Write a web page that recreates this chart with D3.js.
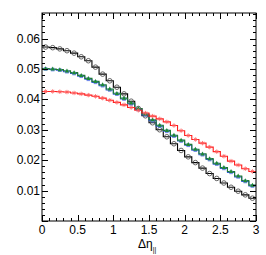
<!DOCTYPE html>
<html><head><meta charset="utf-8">
<script src="https://cdn.jsdelivr.net/npm/d3@7"></script>
<style>body{margin:0;background:#fff;} svg{display:block;}</style>
</head><body>
<script>
const binEdges = d3.range(0, 31).map(i => i * 0.1);
const blackVals = [0.0572,0.0570,0.0566,0.0560,0.0552,0.0540,0.0527,0.0506,0.0483,0.0461,0.0440,0.0418,0.0394,0.0370,0.0346,0.0323,0.0300,0.0277,0.0254,0.0232,0.0211,0.0192,0.0174,0.0156,0.0140,0.0125,0.0111,0.0098,0.0086,0.0075];
const greenVals = [0.0501,0.0500,0.0498,0.0494,0.0488,0.0479,0.0469,0.0459,0.0448,0.0434,0.0420,0.0404,0.0388,0.0370,0.0352,0.0333,0.0315,0.0298,0.0282,0.0266,0.0252,0.0236,0.0221,0.0205,0.0190,0.0176,0.0163,0.0148,0.0133,0.0118];
const blueVals  = [0.0500,0.0498,0.0496,0.0491,0.0485,0.0476,0.0466,0.0456,0.0445,0.0431,0.0417,0.0401,0.0385,0.0367,0.0349,0.0330,0.0312,0.0295,0.0279,0.0263,0.0249,0.0233,0.0218,0.0202,0.0187,0.0173,0.0160,0.0145,0.0130,0.0115];
const redVals   = [0.0426,0.0426,0.0425,0.0424,0.0421,0.0418,0.0414,0.0410,0.0404,0.0397,0.0390,0.0382,0.0373,0.0364,0.0355,0.0345,0.0336,0.0326,0.0314,0.0297,0.0281,0.0268,0.0256,0.0243,0.0228,0.0213,0.0197,0.0184,0.0172,0.0163];
const xTickVals = [0, 0.5, 1, 1.5, 2, 2.5, 3];
const xTickLabels = ["0","0.5","1","1.5","2","2.5","3"];
const yTickVals = [0.01, 0.02, 0.03, 0.04, 0.05, 0.06];
const yTickLabels = ["0.01","0.02","0.03","0.04","0.05","0.06"];

const W = 266, H = 255;
const m = {l: 42, r: 10, t: 13, b: 34};
const svg = d3.select("body").append("svg").attr("width", W).attr("height", H);
const x = d3.scaleLinear().domain([0, 3]).range([m.l, W - m.r]);
const y = d3.scaleLinear().domain([0, 0.0684]).range([H - m.b, m.t]);

const font = "'Liberation Sans', Arial, Helvetica, sans-serif";

function stepPts(vals) {
  const pts = [];
  vals.forEach((v, i) => { pts.push([binEdges[i], v]); pts.push([binEdges[i + 1], v]); });
  return pts;
}
const line = d3.line().x(d => x(d[0])).y(d => y(d[1]));
const centers = binEdges.slice(0, -1).map((e, i) => (e + binEdges[i + 1]) / 2);

const series = [
  {vals: blackVals, color: "#000", mcol: "#555", marker: "circle"},
  {vals: blueVals, color: "#3355dd", mcol: "#5a78e8", marker: "square"},
  {vals: greenVals, color: "#1e7d2e", mcol: "#1e8a30", marker: "triangle"},
  {vals: redVals, color: "#ff1a1a", mcol: "#ff5a5a", marker: "star"}
];

const plot = svg.append("g");
series.forEach(s => {
  plot.append("path").attr("d", line(stepPts(s.vals)))
    .attr("fill", "none").attr("stroke", s.color).attr("stroke-width", 1.1);
});
series.forEach(s => {
  const g = plot.append("g");
  s.vals.forEach((v, i) => {
    const cx = x(centers[i]), cy = y(v);
    if (s.marker === "circle") {
      g.append("circle").attr("cx", cx).attr("cy", cy).attr("r", 2.3)
        .attr("fill", "none").attr("stroke", s.mcol).attr("stroke-width", 0.9);
    } else if (s.marker === "square") {
      g.append("rect").attr("x", cx - 1.8).attr("y", cy - 1.8).attr("width", 3.6).attr("height", 3.6)
        .attr("fill", s.mcol).attr("opacity", 0.85);
    } else if (s.marker === "triangle") {
      g.append("path").attr("d", `M${cx},${cy - 2.4}L${cx + 2.2},${cy + 1.6}L${cx - 2.2},${cy + 1.6}Z`)
        .attr("fill", s.mcol);
    } else {
      const r = 2.2;
      g.append("path").attr("d", `M${cx - r},${cy}H${cx + r}M${cx},${cy - r}V${cy + r}M${cx - r * 0.7},${cy - r * 0.7}L${cx + r * 0.7},${cy + r * 0.7}M${cx - r * 0.7},${cy + r * 0.7}L${cx + r * 0.7},${cy - r * 0.7}`)
        .attr("stroke", s.mcol).attr("stroke-width", 0.8).attr("fill", "none");
    }
  });
});

// frame
const x0 = x(0), x1 = x(3), yB = y(0), yT = y.range()[1];
svg.append("rect").attr("x", x0).attr("y", yT).attr("width", x1 - x0).attr("height", yB - yT)
  .attr("fill", "none").attr("stroke", "#000").attr("stroke-width", 1);

// ticks
const axg = svg.append("g").attr("stroke", "#000").attr("stroke-width", 1);
const xMinor = d3.range(0, 31).map(i => i * 0.1);
xMinor.forEach((v, i) => {
  const len = (i % 5 === 0) ? 6 : 3;
  const px = Math.round(x(v)) + 0.5;
  axg.append("line").attr("x1", px).attr("x2", px).attr("y1", yB).attr("y2", yB - len);
  axg.append("line").attr("x1", px).attr("x2", px).attr("y1", yT).attr("y2", yT + len);
});
const yMinor = d3.range(0, 35).map(i => i * 0.002).filter(v => v <= 0.0684);
yMinor.forEach((v, i) => {
  const len = (i % 5 === 0) ? 6 : 3;
  const py = Math.round(y(v)) + 0.5;
  axg.append("line").attr("y1", py).attr("y2", py).attr("x1", x0).attr("x2", x0 + len);
  axg.append("line").attr("y1", py).attr("y2", py).attr("x1", x1).attr("x2", x1 - len);
});

// labels
const xl = svg.append("g").attr("font-family", font).attr("font-size", 12).attr("fill", "#000");
xTickVals.forEach((v, i) => {
  xl.append("text").attr("x", x(v)).attr("y", yB + 13).attr("text-anchor", "middle").text(xTickLabels[i]);
});
yTickVals.forEach((v, i) => {
  xl.append("text").attr("x", x0 - 2).attr("y", y(v) + 4).attr("text-anchor", "end").text(yTickLabels[i]);
});

// axis title
const t = svg.append("text").attr("font-family", font).attr("font-size", 12).attr("fill", "#000")
  .attr("x", 138).attr("y", 247.5);
t.append("tspan").text("Δη");
t.append("tspan").attr("font-size", 7).attr("dy", 4).attr("fill", "#000").text("||");
</script>
</body></html>
